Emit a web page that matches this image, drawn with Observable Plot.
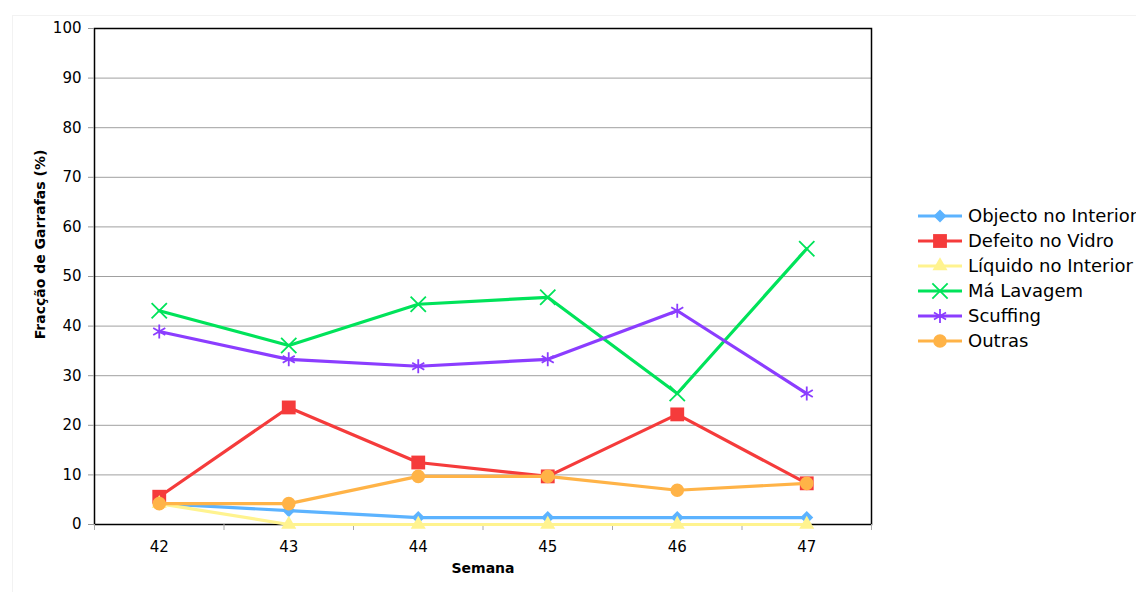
<!DOCTYPE html>
<html>
<head>
<meta charset="utf-8">
<script src="https://cdn.jsdelivr.net/npm/d3@7"></script>
<script src="https://cdn.jsdelivr.net/npm/@observablehq/plot@0.6"></script>
<style>
  html, body { margin: 0; padding: 0; background: #fff; }
  #wrap { position: relative; width: 1136px; height: 592px; overflow: hidden; font-family: "DejaVu Sans", Verdana, sans-serif; }
  #outer { position: absolute; left: 12px; top: 15px; width: 1200px; height: 700px; border: 1px solid #f2f2f2; }
  #chart { position: absolute; left: 0; top: 0; }
  #legend { position: absolute; left: 916px; top: 203px; }
  .row { display: flex; align-items: center; height: 25px; white-space: nowrap; font-size: 18px; color: #000; }
  .row svg { margin-right: 4px; }
</style>
</head>
<body>
<div id="wrap">
  <div id="outer"></div>
  <div id="chart"></div>
  <div id="legend"></div>
</div>
<script>
// ---- data ----
const weeks = [42, 43, 44, 45, 46, 47];
const seriesNames = ["Objecto no Interior", "Defeito no Vidro", "Líquido no Interior", "Má Lavagem", "Scuffing", "Outras"];
const objecto   = [4.2, 2.8, 1.4, 1.4, 1.4, 1.4];
const defeito   = [5.6, 23.6, 12.5, 9.7, 22.2, 8.3];
const liquido   = [4.2, 0, 0, 0, 0, 0];
const maLavagem = [43.1, 36.1, 44.4, 45.8, 26.4, 55.6];
const scuffing  = [38.9, 33.3, 31.9, 33.3, 43.1, 26.4];
const outras    = [4.2, 4.2, 9.7, 9.7, 6.9, 8.3];
const yTicks = [0, 10, 20, 30, 40, 50, 60, 70, 80, 90, 100];
const xTickLabels = ["42", "43", "44", "45", "46", "47"];
const xBoundaries = [41.5, 42.5, 43.5, 44.5, 45.5, 46.5, 47.5];
const yLabel = "Fracção de Garrafas (%)";
const xLabel = "Semana";

// ---- styles ----
const seriesValues = [objecto, defeito, liquido, maLavagem, scuffing, outras];
const styles = [
  {color: "#5cb3ff", symbol: "square", rotate: 45, filled: true, r: 5.2},
  {color: "#f53b3b", symbol: "square", rotate: 0, filled: true, r: 7.8},
  {color: "#fff38f", symbol: "triangle", rotate: 0, filled: true, r: 5.6},
  {color: "#00e35a", symbol: "times", rotate: 0, filled: false, r: 7},
  {color: "#8b3dff", symbol: "asterisk", rotate: 0, filled: false, r: 6.6},
  {color: "#ffb347", symbol: "circle", rotate: 0, filled: true, r: 6.8}
];

const rows = seriesNames.map((name, i) => weeks.map((w, j) => ({week: w, value: seriesValues[i][j], series: name})));

const marks = [
  Plot.gridY(yTicks, {stroke: "#a0a0a0", strokeOpacity: 1, strokeWidth: 1}),
  Plot.frame({stroke: "#000", strokeWidth: 1.5}),
  Plot.axisY(yTicks, {tickSize: 6, tickPadding: 7, stroke: "#999", label: null, fontSize: 15}),
  Plot.axisX(xBoundaries, {tickSize: 6, tickFormat: () => "", stroke: "#aaa", label: null}),
  Plot.axisX(weeks, {tickSize: 0, tickPadding: 17, tickFormat: (d, i) => xTickLabels[i], label: null, fontSize: 15}),
  Plot.text([yLabel], {frameAnchor: "left", textAnchor: "middle", dx: -54, dy: -32, rotate: -90, fontWeight: "bold", fontSize: 14, fill: "#000"}),
  Plot.text([xLabel], {frameAnchor: "bottom", textAnchor: "middle", dy: 48, fontWeight: "bold", fontSize: 14, fill: "#000"})
];

rows.forEach((data, i) => {
  const s = styles[i];
  marks.push(Plot.line(data, {x: "week", y: "value", stroke: s.color, strokeWidth: 3.2}));
  if (s.filled) {
    marks.push(Plot.dot(data, {x: "week", y: "value", symbol: () => s.symbol, rotate: s.rotate, fill: s.color, r: s.r}));
  } else {
    marks.push(Plot.dot(data, {x: "week", y: "value", symbol: () => s.symbol, stroke: s.color, strokeWidth: 1.8, r: s.r}));
  }
});

const chart = Plot.plot({
  width: 1136,
  height: 592,
  marginLeft: 94,
  marginRight: 265,
  marginTop: 28,
  marginBottom: 68,
  style: {fontFamily: "DejaVu Sans, Verdana, sans-serif", fontSize: "15px", color: "#000", background: "transparent", overflow: "visible"},
  x: {domain: [41.5, 47.5], axis: null},
  y: {domain: [0, 100], axis: null},
  symbol: {type: "identity"},
  marks
});
document.getElementById("chart").appendChild(chart);

// ---- legend ----
const legend = d3.select("#legend");
const symMap = {square: d3.symbolSquare, triangle: d3.symbolTriangle, times: d3.symbolTimes, asterisk: d3.symbolAsterisk, circle: d3.symbolCircle};
seriesNames.forEach((name, i) => {
  const s = styles[i];
  const row = legend.append("div").attr("class", "row");
  const svg = row.append("svg").attr("width", 48).attr("height", 22);
  svg.append("line").attr("x1", 2).attr("x2", 46).attr("y1", 11).attr("y2", 11).attr("stroke", s.color).attr("stroke-width", 3.2);
  const path = d3.symbol(symMap[s.symbol], Math.PI * s.r * s.r)();
  const p = svg.append("path").attr("d", path).attr("transform", `translate(24,11) rotate(${s.rotate})`);
  if (s.filled) p.attr("fill", s.color); else p.attr("fill", "none").attr("stroke", s.color).attr("stroke-width", 1.8);
  row.append("span").text(name);
});
</script>
</body>
</html>
